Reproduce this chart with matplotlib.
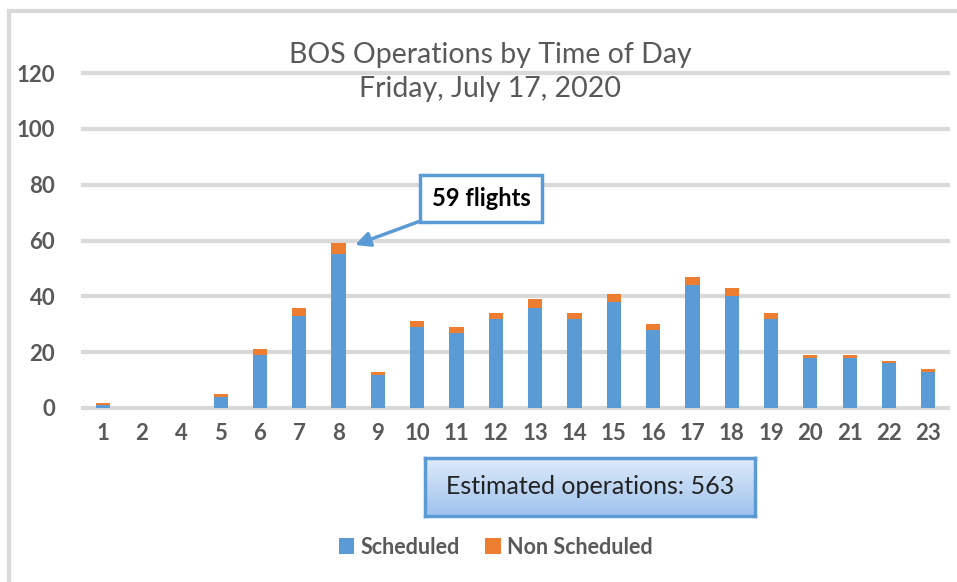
#!/usr/bin/env python3
"""BOS operations by hour of day, stacked scheduled / non scheduled."""

import matplotlib
matplotlib.use("Agg")
import matplotlib.pyplot as plt
import numpy as np

hours = ["1", "2", "4", "5", "6", "7", "8", "9", "10", "11", "12",
         "13", "14", "15", "16", "17", "18", "19", "20", "21", "22", "23"]
scheduled = [1, 0, 0, 4, 19, 33, 55, 12, 29, 27, 32,
             36, 32, 38, 28, 44, 40, 32, 18, 18, 16, 13]
non_scheduled = [0.7, 0, 0, 1, 2, 3, 4, 1, 2, 2, 2,
                 3, 2, 3, 2, 3, 3, 2, 1, 1, 1, 1]
y_ticks = [0, 20, 40, 60, 80, 100, 120]

title = "BOS Operations by Time of Day\nFriday, July 17, 2020"
callout = "59 flights"
total_note = "Estimated operations: 563"

BLUE = "#5b9bd5"
ORANGE = "#ed7d31"
GRAY_TXT = "#595959"
GRID = "#d9d9d9"

plt.rcParams["font.family"] = ["Lato", "DejaVu Sans"]

fig = plt.figure(figsize=(9.57, 5.82), dpi=100)
ax = fig.add_axes([83 / 957, 1 - 408 / 582, 865 / 957, 335 / 582])

x = np.arange(len(hours))
ax.bar(x, scheduled, width=0.36, color=BLUE, label="Scheduled", zorder=3)
ax.bar(x, non_scheduled, width=0.36, bottom=scheduled, color=ORANGE,
       label="Non Scheduled", zorder=3)

ax.set_xlim(-0.5, len(hours) - 0.5)
ax.set_ylim(0, 120)
ax.set_yticks(y_ticks)
ax.set_xticks(x)
ax.set_xticklabels(hours)
for s in ax.spines.values():
    s.set_visible(False)
ax.tick_params(length=0, labelsize=16, labelcolor=GRAY_TXT)
ax.tick_params(axis="y", pad=20)
ax.tick_params(axis="x", pad=11)
for lbl in ax.get_xticklabels() + ax.get_yticklabels():
    lbl.set_fontweight("bold")
ax.grid(axis="y", color=GRID, linewidth=3, zorder=0)
for gl in ax.get_ygridlines():
    gl.set_clip_on(False)

fig.text(0.512, 1 - 72 / 582, title, ha="center", va="center",
         fontsize=20.5, color=GRAY_TXT, linespacing=1.35)

ax.annotate(callout, xy=(6.42, 58.4), xytext=(9.63, 75),
            ha="center", va="center", fontsize=17, fontweight="bold",
            color="black",
            bbox=dict(boxstyle="square,pad=0.5", fc="white", ec=BLUE, lw=2.5),
            arrowprops=dict(arrowstyle="-|>", color=BLUE, lw=2.5,
                            mutation_scale=22, shrinkA=0, shrinkB=0),
            zorder=5)

# gradient note box
nax = fig.add_axes([425 / 957, 1 - 516 / 582, 330 / 957, 58 / 582])
grad = np.linspace(0, 1, 100).reshape(-1, 1)
top_c = np.array([0.87, 0.92, 0.98])
bot_c = np.array([0.62, 0.76, 0.93])
img = top_c + (bot_c - top_c) * grad[:, :, None]
nax.imshow(img, aspect="auto", extent=[0, 1, 0, 1], origin="upper")
nax.set_xticks([])
nax.set_yticks([])
for s in nax.spines.values():
    s.set_color(BLUE)
    s.set_linewidth(2.5)
nax.text(0.5, 0.5, total_note, ha="center", va="center", fontsize=18,
         color="#222222", transform=nax.transAxes)

# outer frame (left and top edges only are visible)
fig.add_artist(plt.Line2D([9 / 957, 9 / 957], [0, 1 - 11 / 582],
                          transform=fig.transFigure, color=GRID, lw=3))
fig.add_artist(plt.Line2D([9 / 957, 1], [1 - 11 / 582, 1 - 11 / 582],
                          transform=fig.transFigure, color=GRID, lw=3))

leg = fig.legend(loc="center", bbox_to_anchor=(0.518, 1 - 547 / 582), ncol=2,
                 frameon=False, handlelength=0.7, handleheight=0.7,
                 handletextpad=0.3, columnspacing=1.2,
                 prop={"size": 15.5, "weight": "bold"})
for t in leg.get_texts():
    t.set_color(GRAY_TXT)

fig.savefig("out.png", dpi=100)
